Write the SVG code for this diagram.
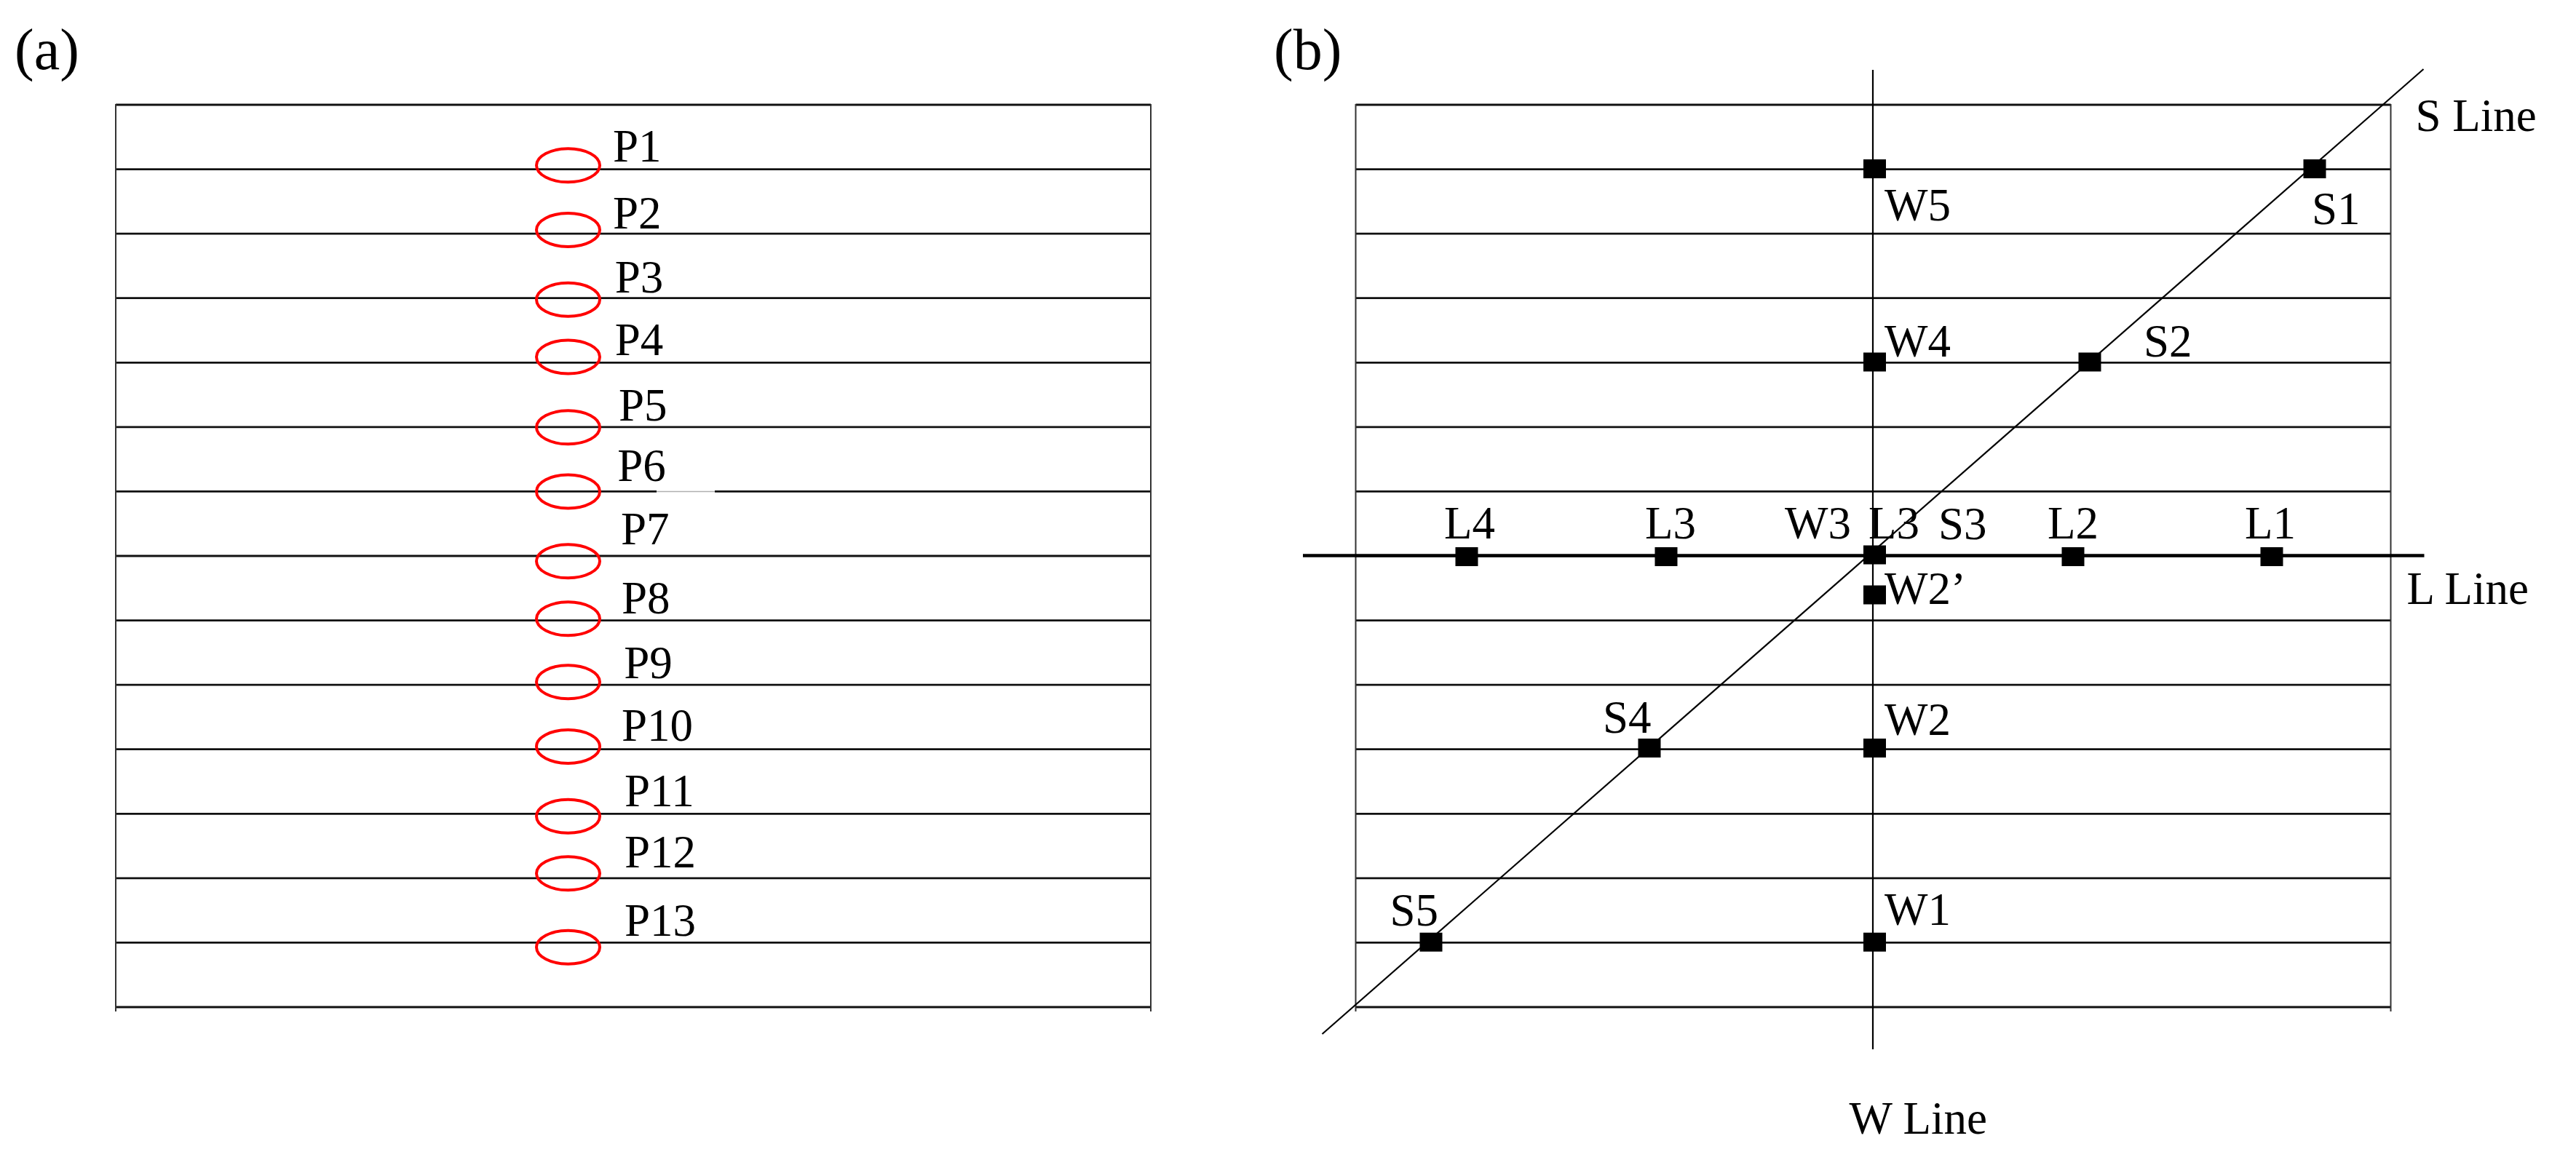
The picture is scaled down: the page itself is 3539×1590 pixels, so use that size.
<svg xmlns="http://www.w3.org/2000/svg" width="3539" height="1590" viewBox="0 0 3539 1590">
<style>
text{font-family:"Liberation Serif","Times New Roman",serif;fill:#000}
.lbl{font-size:63px}
.pan{font-size:80px}
.grid{stroke:#111;stroke-width:2.8;fill:none}
.edge{stroke:#333;stroke-width:2;fill:none}
.ax{stroke:#000;stroke-width:2.2;fill:none}
.lline{stroke:#000;stroke-width:4.5;fill:none}
.ring{fill:none;stroke:#ff0000;stroke-width:4}
.sq{fill:#000}
</style>
<rect width="3539" height="1590" fill="#fff"/>
<defs>
<g id="hl">
<line class="grid" x1="0" y1="144" x2="1422" y2="144"/>
<line class="grid" x1="0" y1="232.6" x2="1422" y2="232.6"/>
<line class="grid" x1="0" y1="321.1" x2="1422" y2="321.1"/>
<line class="grid" x1="0" y1="409.7" x2="1422" y2="409.7"/>
<line class="grid" x1="0" y1="498.3" x2="1422" y2="498.3"/>
<line class="grid" x1="0" y1="586.9" x2="1422" y2="586.9"/>
<line class="grid" x1="0" y1="764" x2="1422" y2="764"/>
<line class="grid" x1="0" y1="852.6" x2="1422" y2="852.6"/>
<line class="grid" x1="0" y1="941.1" x2="1422" y2="941.1"/>
<line class="grid" x1="0" y1="1029.7" x2="1422" y2="1029.7"/>
<line class="grid" x1="0" y1="1118.3" x2="1422" y2="1118.3"/>
<line class="grid" x1="0" y1="1206.9" x2="1422" y2="1206.9"/>
<line class="grid" x1="0" y1="1295.4" x2="1422" y2="1295.4"/>
<line class="grid" x1="0" y1="1384" x2="1422" y2="1384"/>
</g>
</defs>

<text class="pan" x="20" y="95">(a)</text>
<text class="pan" x="1750" y="95">(b)</text>

<g id="connectors">
<!-- panel (a) grid -->
<use href="#hl" x="159"/>
<line class="grid" x1="159" y1="675.4" x2="902" y2="675.4"/>
<line x1="902" y1="675.4" x2="982" y2="675.4" stroke="#b0b0b0" stroke-width="1.5"/>
<line class="grid" x1="982" y1="675.4" x2="1581" y2="675.4"/>
<line class="edge" x1="159" y1="143" x2="159" y2="1390"/>
<line class="edge" x1="1581" y1="143" x2="1581" y2="1390"/>
<!-- panel (b) grid -->
<use href="#hl" x="1862.5"/>
<line class="grid" x1="1862.5" y1="675.4" x2="3284.5" y2="675.4"/>
<line class="edge" x1="1862.5" y1="143" x2="1862.5" y2="1390"/>
<line class="edge" x1="3284.5" y1="143" x2="3284.5" y2="1390"/>
<!-- W, S, L lines -->
<line id="wline" class="ax" x1="2573" y1="96" x2="2573" y2="1442"/>
<line id="sline" class="ax" x1="3329.5" y1="95" x2="1816.5" y2="1421"/>
<line id="lline" class="lline" x1="1790" y1="763.5" x2="3330.5" y2="763.5"/>
</g>

<g id="points-a">
<g id="P1"><ellipse class="ring" cx="780.5" cy="227.3" rx="43.5" ry="23"/><text class="lbl" x="842" y="221.7">P1</text></g>
<g id="P2"><ellipse class="ring" cx="780.5" cy="316" rx="43.5" ry="23"/><text class="lbl" x="842" y="314.3">P2</text></g>
<g id="P3"><ellipse class="ring" cx="780.5" cy="411.7" rx="43.5" ry="23"/><text class="lbl" x="844.7" y="401.7">P3</text></g>
<g id="P4"><ellipse class="ring" cx="780.5" cy="490.5" rx="43.5" ry="23"/><text class="lbl" x="844.7" y="487.7">P4</text></g>
<g id="P5"><ellipse class="ring" cx="780.5" cy="587.3" rx="43.5" ry="23"/><text class="lbl" x="850" y="578">P5</text></g>
<g id="P6"><ellipse class="ring" cx="780.5" cy="675.5" rx="43.5" ry="23"/><text class="lbl" x="848.3" y="661">P6</text></g>
<g id="P7"><ellipse class="ring" cx="780.5" cy="771.3" rx="43.5" ry="23"/><text class="lbl" x="853" y="748.3">P7</text></g>
<g id="P8"><ellipse class="ring" cx="780.5" cy="850.3" rx="43.5" ry="23"/><text class="lbl" x="854" y="842.7">P8</text></g>
<g id="P9"><ellipse class="ring" cx="780.5" cy="937.2" rx="43.5" ry="23"/><text class="lbl" x="857.3" y="931.7">P9</text></g>
<g id="P10"><ellipse class="ring" cx="780.5" cy="1026" rx="43.5" ry="23"/><text class="lbl" x="854" y="1017.5">P10</text></g>
<g id="P11"><ellipse class="ring" cx="780.5" cy="1121.7" rx="43.5" ry="23"/><text class="lbl" x="858" y="1108.3">P11</text></g>
<g id="P12"><ellipse class="ring" cx="780.5" cy="1200.3" rx="43.5" ry="23"/><text class="lbl" x="858" y="1191.7">P12</text></g>
<g id="P13"><ellipse class="ring" cx="780.5" cy="1301.7" rx="43.5" ry="23"/><text class="lbl" x="858" y="1286">P13</text></g>
</g>

<g id="points-b">
<g id="W5"><rect class="sq" x="2560" y="219" width="31" height="26"/><text class="lbl" x="2589" y="303">W5</text></g>
<g id="S1"><rect class="sq" x="3164.5" y="219" width="31" height="26"/><text class="lbl" x="3176" y="308">S1</text></g>
<g id="W4"><rect class="sq" x="2560" y="484.5" width="31" height="26"/><text class="lbl" x="2589" y="490">W4</text></g>
<g id="S2"><rect class="sq" x="2855.5" y="484.5" width="31" height="26"/><text class="lbl" x="2945" y="490">S2</text></g>
<g id="L4"><rect class="sq" x="1999.5" y="752" width="31" height="26"/><text class="lbl" x="1984" y="739.5">L4</text></g>
<g id="L3a"><rect class="sq" x="2273.5" y="752" width="31" height="26"/><text class="lbl" x="2260" y="739.5">L3</text></g>
<g id="center"><rect class="sq" x="2560" y="749.5" width="31" height="26"/><text class="lbl" x="2452" y="739.5">W3</text><text class="lbl" x="2567" y="739.5">L3</text><text class="lbl" x="2663" y="740.5">S3</text></g>
<g id="L2"><rect class="sq" x="2832.5" y="752" width="31" height="26"/><text class="lbl" x="2813" y="739.5">L2</text></g>
<g id="L1"><rect class="sq" x="3105.5" y="752" width="31" height="26"/><text class="lbl" x="3084" y="739.5">L1</text></g>
<g id="W2p"><rect class="sq" x="2560" y="804.5" width="31" height="26"/><text class="lbl" x="2589" y="829.5">W2’</text></g>
<g id="S4"><rect class="sq" x="2250.5" y="1015" width="31" height="26"/><text class="lbl" x="2202" y="1007">S4</text></g>
<g id="W2"><rect class="sq" x="2560" y="1015" width="31" height="26"/><text class="lbl" x="2589" y="1010">W2</text></g>
<g id="S5"><rect class="sq" x="1950.5" y="1281.7" width="31" height="26"/><text class="lbl" x="1909.5" y="1271.7">S5</text></g>
<g id="W1"><rect class="sq" x="2560" y="1281.7" width="31" height="26"/><text class="lbl" x="2589" y="1270.7">W1</text></g>
<text class="lbl" x="3318.5" y="180">S Line</text>
<text class="lbl" x="3306.5" y="829.5">L Line</text>
<text class="lbl" x="2540.5" y="1558">W Line</text>
</g>
</svg>
